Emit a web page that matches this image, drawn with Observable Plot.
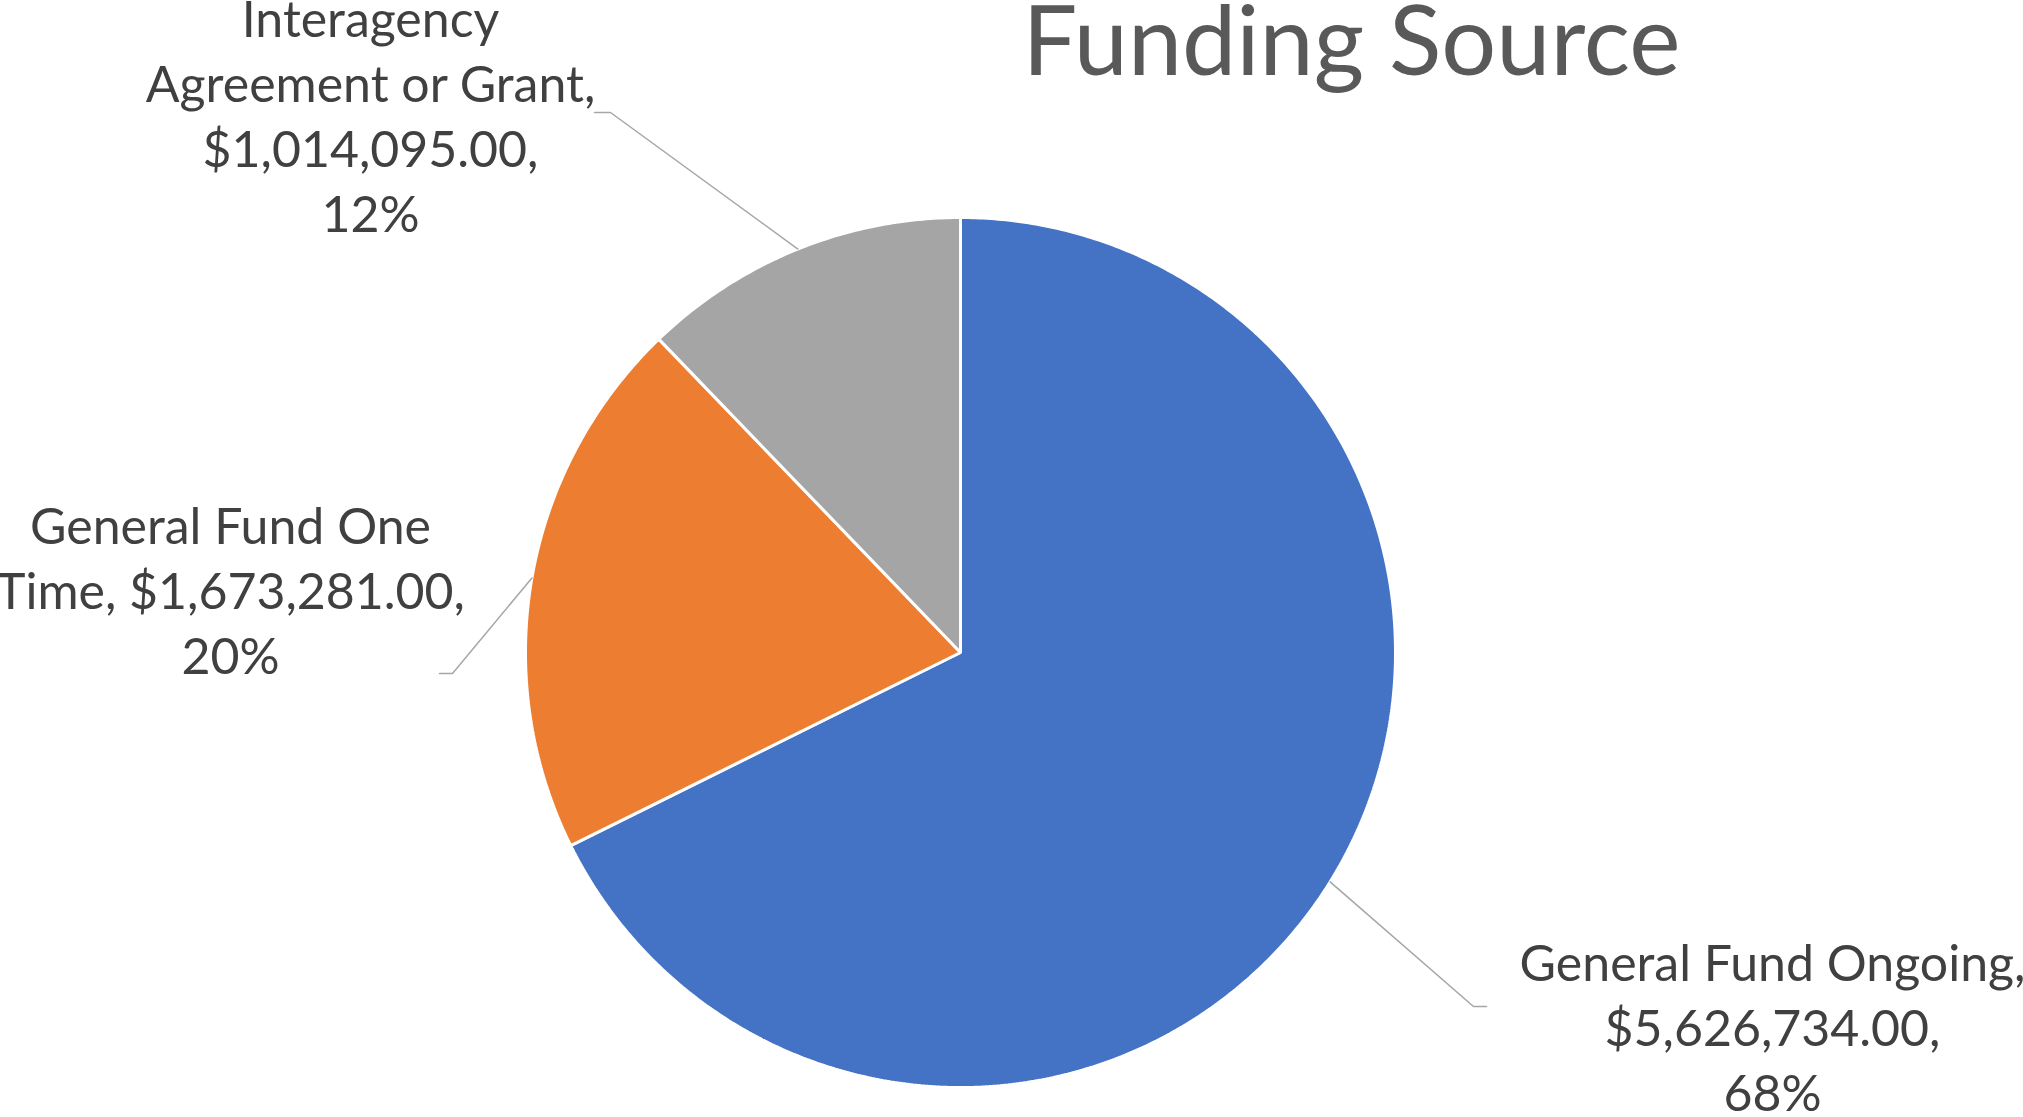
<!DOCTYPE html>
<html>
<head>
<meta charset="utf-8">
<script src="https://cdn.jsdelivr.net/npm/d3@7"></script>
<script src="https://cdn.jsdelivr.net/npm/@observablehq/plot@0.6"></script>
<style>
  html, body { margin: 0; padding: 0; background: #ffffff; }
  #chart svg { display: block; }
</style>
</head>
<body>
<div id="chart"></div>
<script>
// ---- Data ----
const categories = ["General Fund Ongoing", "General Fund One Time", "Interagency Agreement or Grant"];
const amounts = [5626734, 1673281, 1014095];
const colors = ["#4472C4", "#ED7D31", "#A5A5A5"];
const chartTitle = "Funding Source";
// words per line for each data label (layout of label wrapping)
const labelLineWords = [[3, 1, 1], [3, 2, 1], [1, 3, 1, 1]];

// ---- Layout (pixel units of the chart frame) ----
const W = 2023, H = 1117;
const pie = { cx: 960, cy: 652, r: 435 };
const labelLayout = [
  { x: 1772, y: 934, elbow: [1473, 1006], end: [1486, 1006] },
  { x: 230,  y: 497, elbow: [452, 673],   end: [439, 673] },
  { x: 370,  y: -10, elbow: [610, 112],   end: [594, 112] }
];
const titleLayout = { x: 1351, y: 6 };
const FONT = "Lato, 'Open Sans', sans-serif";

// ---- Derived ----
const total = d3.sum(amounts);
const rows = categories.map((c, i) => ({ cat: c, value: amounts[i] }));
const arcs = d3.pie().sort(null).value(d => d.value).startAngle(0).endAngle(2 * Math.PI)(rows);
const fmtMoney = d3.format("$,.2f");

const px = a => pie.cx + pie.r * Math.sin(a);
const py = a => pie.cy - pie.r * Math.cos(a);

const slicePts = [];
arcs.forEach(a => {
  slicePts.push({ cat: a.data.cat, x: pie.cx, y: pie.cy });
  const n = Math.max(2, Math.ceil((a.endAngle - a.startAngle) / (Math.PI / 360)));
  for (let k = 0; k <= n; k++) {
    const t = a.startAngle + (a.endAngle - a.startAngle) * k / n;
    slicePts.push({ cat: a.data.cat, x: px(t), y: py(t) });
  }
});

const leaderPts = [];
const labels = [];
arcs.forEach((a, i) => {
  const mid = (a.startAngle + a.endAngle) / 2;
  const L = labelLayout[i];
  leaderPts.push({ cat: a.data.cat, x: px(mid), y: py(mid) });
  leaderPts.push({ cat: a.data.cat, x: L.elbow[0], y: L.elbow[1] });
  leaderPts.push({ cat: a.data.cat, x: L.end[0], y: L.end[1] });
  const pct = Math.round(a.data.value / total * 100) + "%";
  const words = `${a.data.cat}, ${fmtMoney(a.data.value)}, ${pct}`.split(" ");
  const lines = [];
  let k = 0;
  for (const n of labelLineWords[i]) { lines.push(words.slice(k, k + n).join(" ")); k += n; }
  labels.push({ cat: a.data.cat, x: L.x, y: L.y, text: lines.join("\n") });
});

const chart = Plot.plot({
  width: W,
  height: H,
  margin: 0,
  style: { background: "#ffffff", overflow: "visible" },
  x: { domain: [0, W], axis: null },
  y: { domain: [0, H], reverse: true, axis: null },
  color: { domain: categories, range: colors },
  marks: [
    Plot.line(slicePts, {
      x: "x", y: "y", z: "cat", fill: "cat",
      stroke: "#ffffff", strokeWidth: 3, strokeLinejoin: "miter", curve: "linear-closed"
    }),
    Plot.line(leaderPts, {
      x: "x", y: "y", z: "cat", stroke: "#A6A6A6", strokeWidth: 1.5, strokeLinejoin: "miter"
    }),
    Plot.text(labels, {
      x: "x", y: "y", text: "text", lineAnchor: "top", textAnchor: "middle",
      fontSize: 50, lineHeight: 1.3, fill: "#404040", fontFamily: FONT
    }),
    Plot.text([chartTitle], {
      x: () => titleLayout.x, y: () => titleLayout.y, text: d => d,
      lineAnchor: "top", textAnchor: "middle",
      fontSize: 97, fill: "#595959", fontFamily: FONT
    })
  ]
});
document.getElementById("chart").appendChild(chart);
</script>
</body>
</html>
